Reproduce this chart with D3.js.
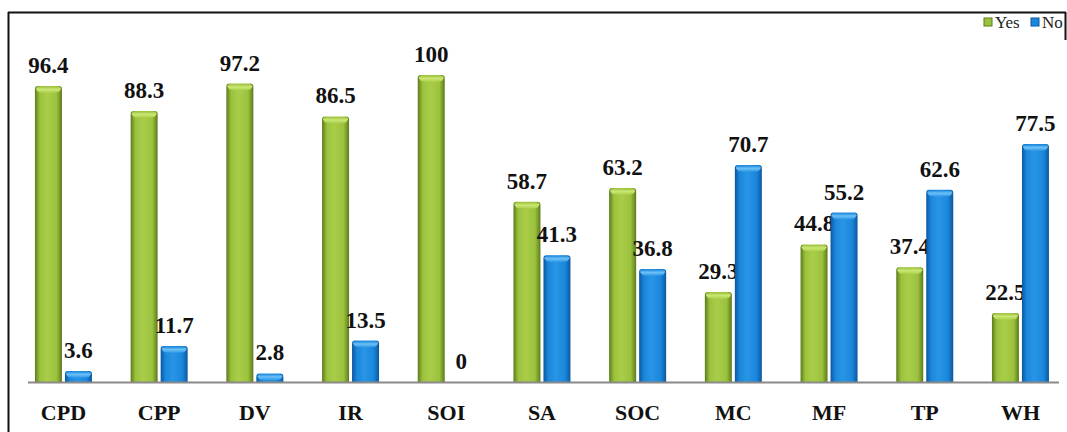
<!DOCTYPE html>
<html>
<head>
<meta charset="utf-8">
<script src="https://cdn.jsdelivr.net/npm/d3@7"></script>
<style>
  html, body { margin: 0; padding: 0; background: #fff; }
  svg { display: block; }
</style>
</head>
<body>
<svg id="chart" width="1067" height="432"></svg>
<script>
// Survey categories and percentage of "Yes" / "No" answers
const categories = ["CPD", "CPP", "DV", "IR", "SOI", "SA", "SOC", "MC", "MF", "TP", "WH"];
const yesValues = [96.4, 88.3, 97.2, 86.5, 100, 58.7, 63.2, 29.3, 44.8, 37.4, 22.5];
const noValues  = [3.6, 11.7, 2.8, 13.5, 0, 41.3, 36.8, 70.7, 55.2, 62.6, 77.5];
const seriesNames = ["Yes", "No"];

const H = 432;
const svg = d3.select("#chart");
const SERIF = '"Liberation Serif"';

const seriesStyle = {
  Yes: { edge: "#5c7b1b", mid: "#9cc23d", light: "#a9cd48", cap: "#cbe774", values: yesValues },
  No:  { edge: "#0c579f", mid: "#1a87dc", light: "#2a95e6", cap: "#6cc0f6", values: noValues }
};

// Gradients giving the bars a rounded, cylindrical look
const defs = svg.append("defs");
seriesNames.forEach(s => {
  const st = seriesStyle[s];
  const g = defs.append("linearGradient").attr("id", "body-" + s)
    .attr("x1", "0").attr("x2", "1").attr("y1", "0").attr("y2", "0");
  g.append("stop").attr("offset", "0%").attr("stop-color", st.edge);
  g.append("stop").attr("offset", "18%").attr("stop-color", st.mid);
  g.append("stop").attr("offset", "45%").attr("stop-color", st.light);
  g.append("stop").attr("offset", "80%").attr("stop-color", st.mid);
  g.append("stop").attr("offset", "100%").attr("stop-color", st.edge);
  const c = defs.append("linearGradient").attr("id", "cap-" + s)
    .attr("x1", "0").attr("x2", "0").attr("y1", "0").attr("y2", "1");
  c.append("stop").attr("offset", "0%").attr("stop-color", st.mid);
  c.append("stop").attr("offset", "45%").attr("stop-color", st.cap);
  c.append("stop").attr("offset", "100%").attr("stop-color", st.light);
});

// Scales
const x = d3.scaleBand().domain(categories).range([15.6, 1068.3]).paddingInner(0).paddingOuter(0);
const xs = d3.scaleBand().domain(seriesNames).range([-28.5, 28.5]).paddingInner(0.1);
const y = d3.scaleLinear().domain([0, 100]).range([382, 75]);
const barX = (cat, s) => x(cat) + x.bandwidth() / 2 + xs(s);

// Frame lines
svg.append("line").attr("x1", 8).attr("x2", 1066).attr("y1", 12.5).attr("y2", 12.5)
  .attr("stroke", "#111").attr("stroke-width", 2);
svg.append("line").attr("x1", 8.5).attr("x2", 8.5).attr("y1", 12).attr("y2", H)
  .attr("stroke", "#111").attr("stroke-width", 2);
svg.append("line").attr("x1", 1065.5).attr("x2", 1065.5).attr("y1", 12).attr("y2", 40)
  .attr("stroke", "#111").attr("stroke-width", 2);

function barPath(x0, w, top, bottom) {
  const r = Math.min(3, (bottom - top) / 2);
  return `M${x0},${bottom} V${top + r} Q${x0},${top} ${x0 + r},${top} H${x0 + w - r} Q${x0 + w},${top} ${x0 + w},${top + r} V${bottom} Z`;
}
function capPath(x0, w, top, bottom) {
  const h = Math.min(7, (bottom - top));
  const r = Math.min(3, h / 2);
  return `M${x0 + 1},${top + r} Q${x0 + 1},${top + 0.5} ${x0 + r + 1},${top + 0.5} H${x0 + w - r - 1} Q${x0 + w - 1},${top + 0.5} ${x0 + w - 1},${top + r} ` +
         `L${x0 + w - 3},${top + h - 1} Q${x0 + w / 2},${top + h + 1} ${x0 + 3},${top + h - 1} Z`;
}

// Bars, caps and value labels for each series
seriesNames.forEach(s => {
  const st = seriesStyle[s];
  const data = categories.map((c, i) => ({ cat: c, v: st.values[i] }));
  const bw = xs.bandwidth();
  svg.append("g").selectAll("path").data(data.filter(d => d.v > 0)).join("path")
    .attr("d", d => barPath(barX(d.cat, s), bw, y(d.v), y(0)))
    .attr("fill", `url(#body-${s})`);
  svg.append("g").selectAll("path").data(data.filter(d => d.v > 0)).join("path")
    .attr("d", d => capPath(barX(d.cat, s), bw, y(d.v), y(0)))
    .attr("fill", `url(#cap-${s})`);
  data.forEach(d => {
    svg.append("text")
      .attr("x", barX(d.cat, s) + bw / 2)
      .attr("y", y(d.v) - 13)
      .attr("text-anchor", "middle")
      .style("font-family", SERIF).style("font-weight", "bold").style("font-size", "23px")
      .attr("fill", "#111")
      .text(d.v);
  });
});

// Baseline
svg.append("line").attr("x1", 28).attr("x2", 1059).attr("y1", y(0) + 0.5).attr("y2", y(0) + 0.5)
  .attr("stroke", "#8a8a8a").attr("stroke-width", 2);

// Category axis (labels only)
const xAxis = svg.append("g").attr("transform", `translate(0,${y(0)})`)
  .call(d3.axisBottom(x).tickSize(0).tickPadding(0));
xAxis.select(".domain").remove();
xAxis.attr("font-family", SERIF).attr("font-size", 22);
xAxis.selectAll("text")
  .attr("y", 38).attr("dy", 0)
  .style("font-family", SERIF).style("font-weight", "bold").style("font-size", "22px")
  .attr("fill", "#111");

// Legend
const legendX = { Yes: 984, No: 1031 };
seriesNames.forEach(s => {
  const st = seriesStyle[s];
  svg.append("rect").attr("x", legendX[s]).attr("y", 18).attr("width", 8).attr("height", 8)
    .attr("fill", st.mid).attr("stroke", st.edge).attr("stroke-width", 1);
  svg.append("text").attr("x", legendX[s] + 11).attr("y", 28)
    .style("font-family", SERIF).style("font-size", "17px")
    .attr("fill", "#222")
    .text(s);
});
</script>
</body>
</html>
